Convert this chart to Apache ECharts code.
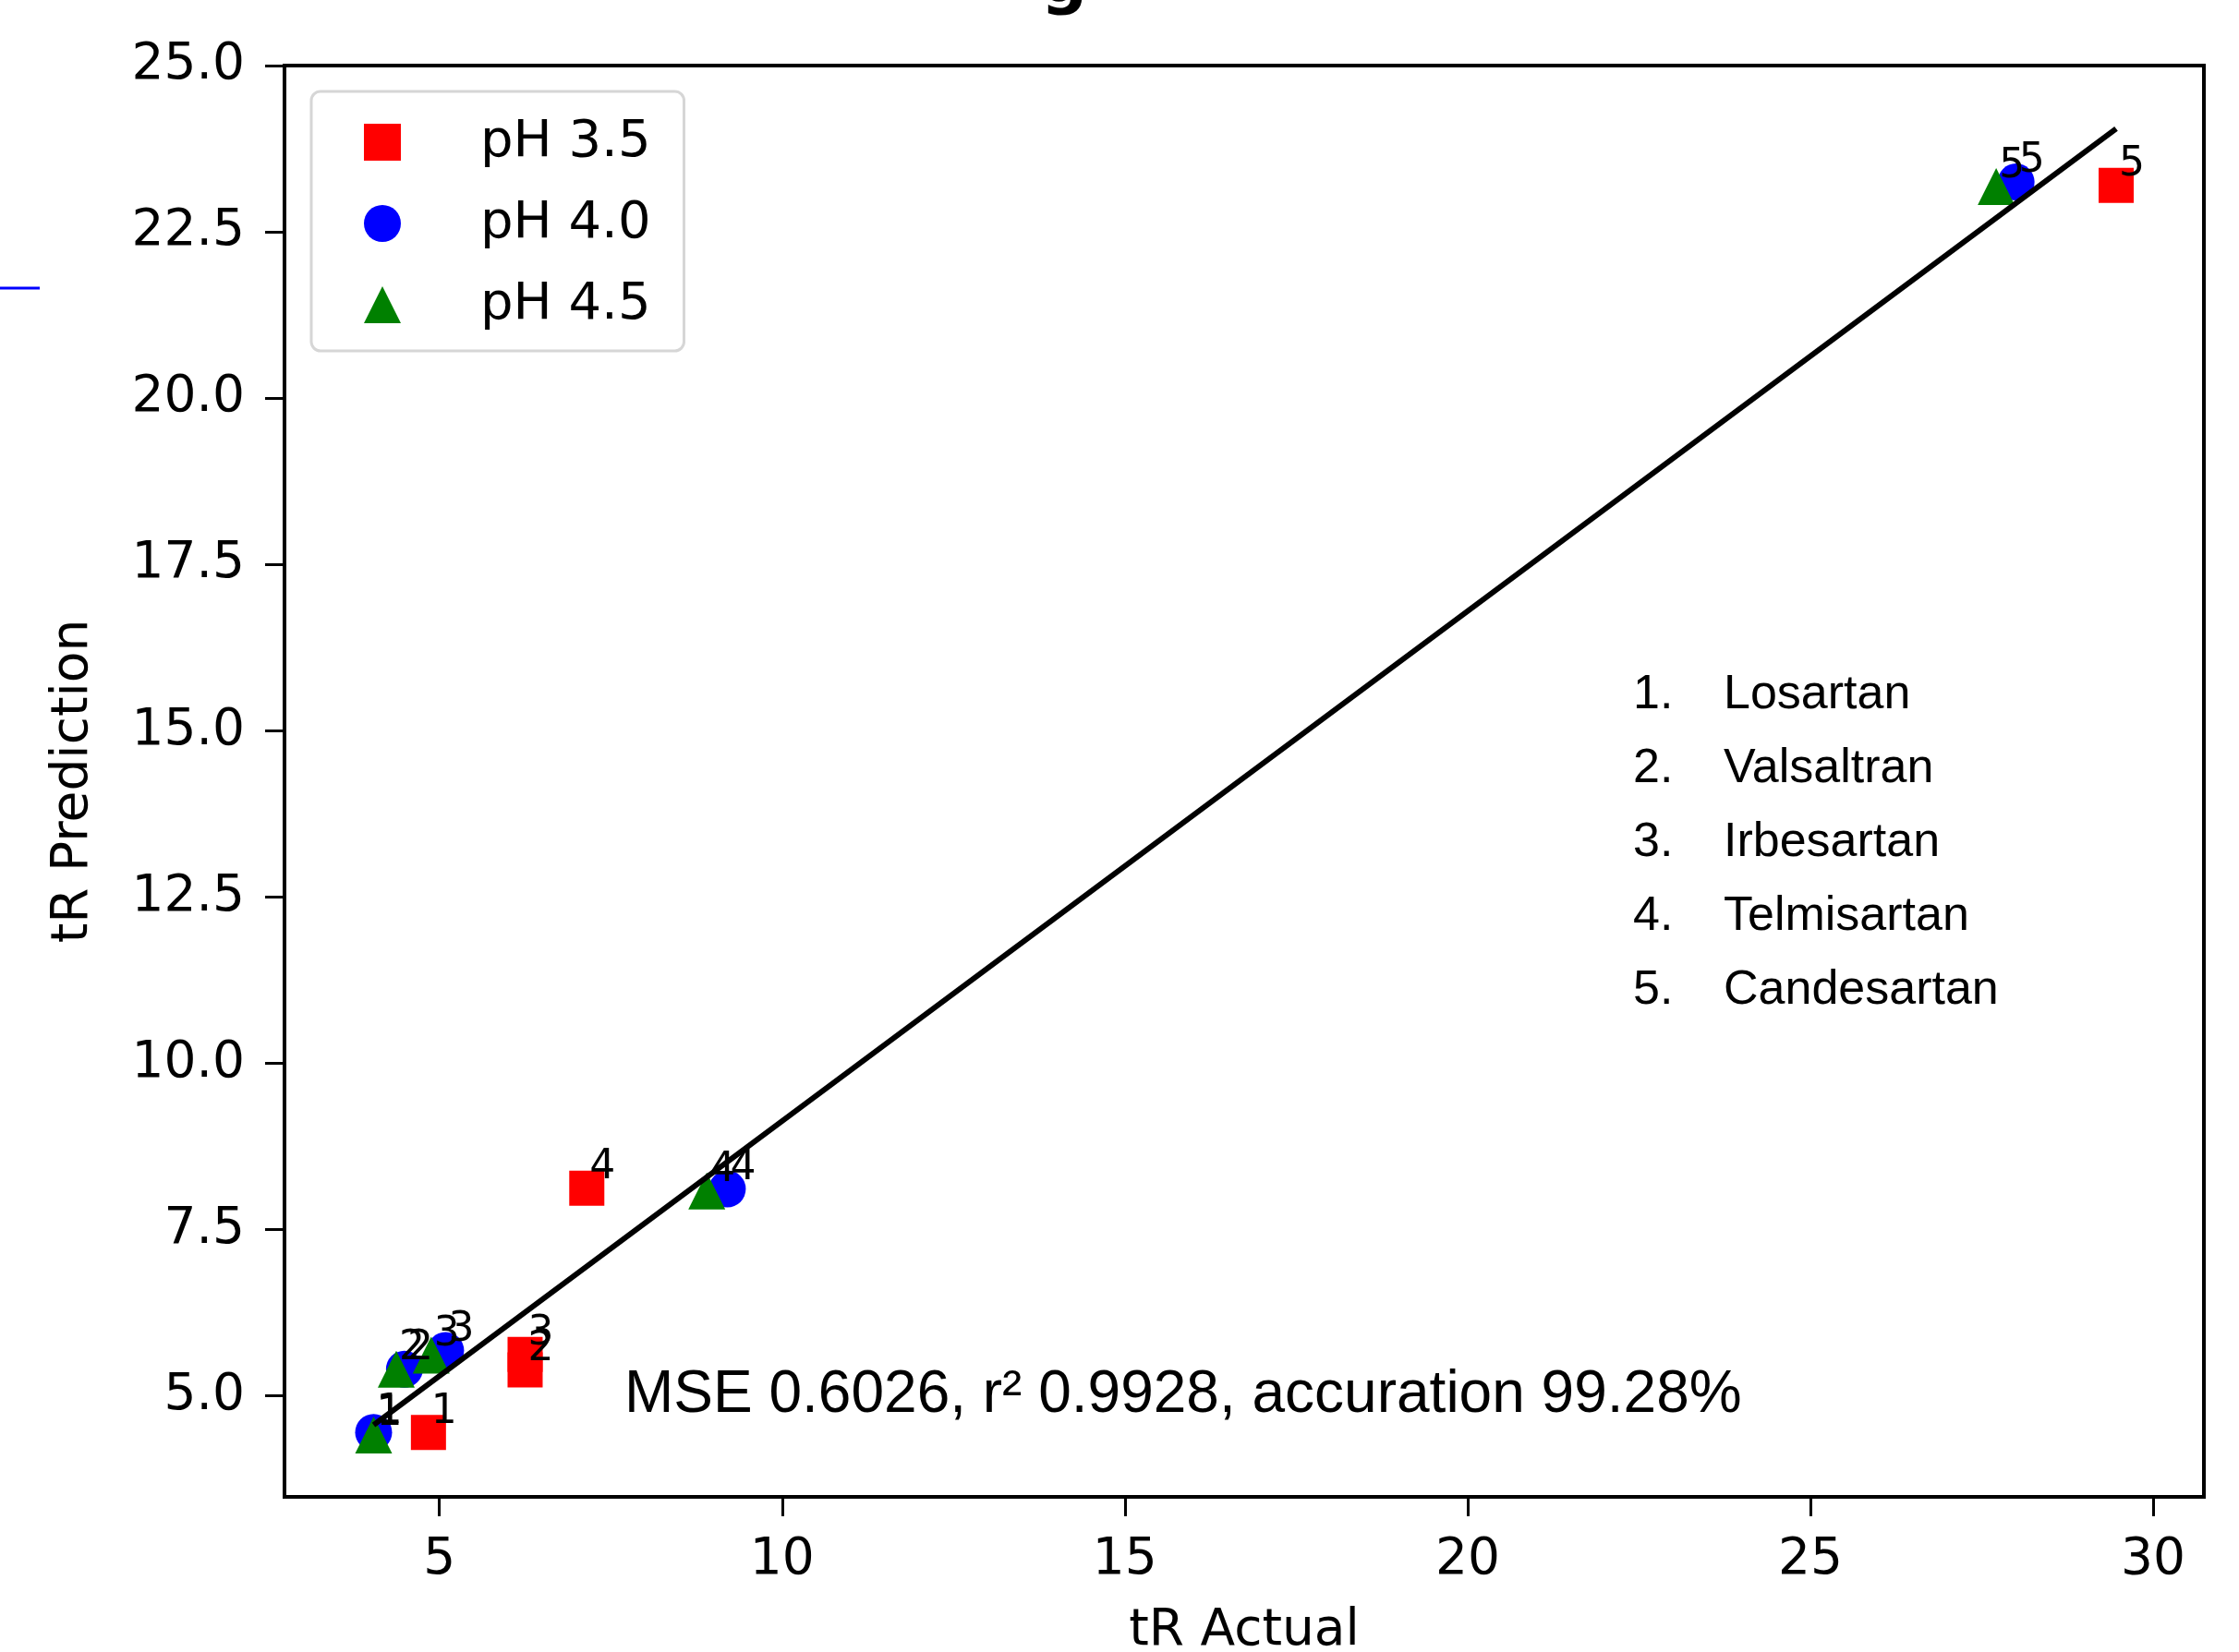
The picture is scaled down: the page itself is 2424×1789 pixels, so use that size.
<!DOCTYPE html>
<html>
<head>
<meta charset="utf-8">
<script src="https://cdn.jsdelivr.net/npm/echarts@6/dist/echarts.min.js"></script>
<style>
  html, body { margin: 0; padding: 0; background: #fff; }
  #chart { width: 2424px; height: 1789px; }
</style>
</head>
<body>
<div id="chart"></div>
<script>
// point labels (drug number)
const pointLabels = ['1', '2', '3', '4', '5'];

// pH 3.5
const ph35Actual = [4.84, 6.25, 6.25, 7.15, 29.46];
const ph35Pred = [4.45, 5.39, 5.62, 8.12, 23.20];
// pH 4.0
const ph40Actual = [4.04, 4.49, 5.09, 9.20, 28.00];
const ph40Pred = [4.45, 5.40, 5.68, 8.11, 23.25];
// pH 4.5
const ph45Actual = [4.04, 4.37, 4.88, 8.90, 27.71];
const ph45Pred = [4.41, 5.40, 5.61, 8.08, 23.18];

// regression line end points
const fitX = [4.04, 29.46];
const fitY = [4.56, 24.05];

const xTicks = [5, 10, 15, 20, 25, 30];
const yTicks = [5, 7.5, 10, 12.5, 15, 17.5, 20, 22.5, 25];

const drugNums = ['1.', '2.', '3.', '4.', '5.'];
const drugNames = ['Losartan', 'Valsaltran', 'Irbesartan', 'Telmisartan', 'Candesartan'];

const mse = '0.6026';
const r2 = '0.9928';
const accuration = '99.28%';

const chart = echarts.init(document.getElementById('chart'), null, { renderer: 'canvas' });

const mpl = '"DejaVu Sans", sans-serif';
const arial = '"Liberation Sans", Arial, sans-serif';

function toPoints(xs, ys) {
  return xs.map((x, i) => ({ name: pointLabels[i], value: [x, ys[i]] }));
}

const pointLabel = {
  show: true,
  position: 'inside',
  formatter: '{b}',
  align: 'left',
  verticalAlign: 'middle',
  offset: [3, -22],
  color: '#000',
  fontFamily: mpl,
  fontSize: 44
};

function scatter(name, xs, ys, symbol, size, color) {
  return {
    name,
    type: 'scatter',
    symbol,
    symbolSize: size,
    itemStyle: { color, opacity: 1 },
    label: pointLabel,
    emphasis: { disabled: true },
    data: toPoints(xs, ys),
    z: 2
  };
}

// drug list on the right
const listItems = [];
drugNames.forEach((name, i) => {
  const y = 753 + i * 80;
  listItems.push({
    type: 'text', x: 1768, y,
    style: { text: drugNums[i], font: '52px ' + arial, fill: '#000', verticalAlign: 'middle' }
  });
  listItems.push({
    type: 'text', x: 1866, y,
    style: { text: name, font: '52px ' + arial, fill: '#000', verticalAlign: 'middle' }
  });
});

const option = {
  backgroundColor: '#fff',
  animation: false,
  grid: {
    left: 308, right: 38, top: 71, bottom: 168,
    outerBoundsMode: 'none',
    containLabel: false,
    show: true,
    borderColor: '#000',
    borderWidth: 4,
    backgroundColor: 'transparent'
  },
  legend: {
    orient: 'vertical',
    left: 337,
    top: 99,
    selectedMode: false,
    itemWidth: 40,
    itemHeight: 40,
    itemGap: 28,
    padding: [25, 36, 20, 57],
    backgroundColor: '#fff',
    borderColor: '#d6d6d6',
    borderWidth: 3,
    borderRadius: 10,
    formatter: name => '{g|}' + name,
    textStyle: {
      fontFamily: mpl,
      fontSize: 56,
      lineHeight: 60,
      color: '#000',
      rich: {
        g: { width: 81 }
      }
    },
    data: [
      { name: 'pH 3.5', icon: 'rect' },
      { name: 'pH 4.0', icon: 'circle' },
      { name: 'pH 4.5', icon: 'triangle' }
    ]
  },
  xAxis: {
    type: 'value',
    min: 2.74,
    max: 30.74,
    name: 'tR Actual',
    nameLocation: 'middle',
    nameGap: 118,
    nameTextStyle: { fontFamily: mpl, fontSize: 55, color: '#000' },
    splitLine: { show: false },
    axisLine: { show: false },
    axisTick: {
      show: true,
      inside: false,
      length: 21,
      customValues: xTicks,
      lineStyle: { color: '#000', width: 3 }
    },
    axisLabel: {
      customValues: xTicks,
      margin: 41,
      fontFamily: mpl,
      fontSize: 55,
      color: '#000'
    }
  },
  yAxis: {
    type: 'value',
    min: 3.48,
    max: 25.0,
    name: 'tR Prediction',
    nameLocation: 'middle',
    nameGap: 201,
    nameRotate: 90,
    nameTextStyle: { fontFamily: mpl, fontSize: 55, color: '#000' },
    splitLine: { show: false },
    axisLine: { show: false },
    axisTick: {
      show: true,
      inside: false,
      length: 21,
      customValues: yTicks,
      lineStyle: { color: '#000', width: 3 }
    },
    axisLabel: {
      customValues: yTicks,
      margin: 43,
      fontFamily: mpl,
      fontSize: 55,
      color: '#000',
      formatter: v => v.toFixed(1)
    }
  },
  series: [
    scatter('pH 3.5', ph35Actual, ph35Pred, 'rect', 38, '#ff0000'),
    scatter('pH 4.0', ph40Actual, ph40Pred, 'circle', 40, '#0000ff'),
    scatter('pH 4.5', ph45Actual, ph45Pred, 'triangle', 40, '#008000'),
    {
      name: 'fit',
      type: 'line',
      data: fitX.map((x, i) => [x, fitY[i]]),
      showSymbol: false,
      symbol: 'none',
      lineStyle: { color: '#000', width: 6 },
      emphasis: { disabled: true },
      z: 3
    }
  ],
  graphic: [
    // cut-off title descender at the top edge
    {
      type: 'text', x: 1152, y: 19,
      style: { text: 'g', font: 'bold 70px ' + mpl, fill: '#000', align: 'center', verticalAlign: 'bottom' }
    },
    // small stray blue stroke at the left edge
    {
      type: 'line',
      shape: { x1: 0, y1: 312, x2: 43, y2: 312 },
      style: { stroke: '#0000ff', lineWidth: 3 }
    },
    {
      type: 'text', x: 676, y: 1511,
      style: {
        text: 'MSE ' + mse + ', r\u00B2 ' + r2 + ', accuration ' + accuration,
        font: '64px ' + arial,
        fill: '#000',
        verticalAlign: 'middle'
      }
    },
    ...listItems
  ]
};

chart.setOption(option);
</script>
</body>
</html>
